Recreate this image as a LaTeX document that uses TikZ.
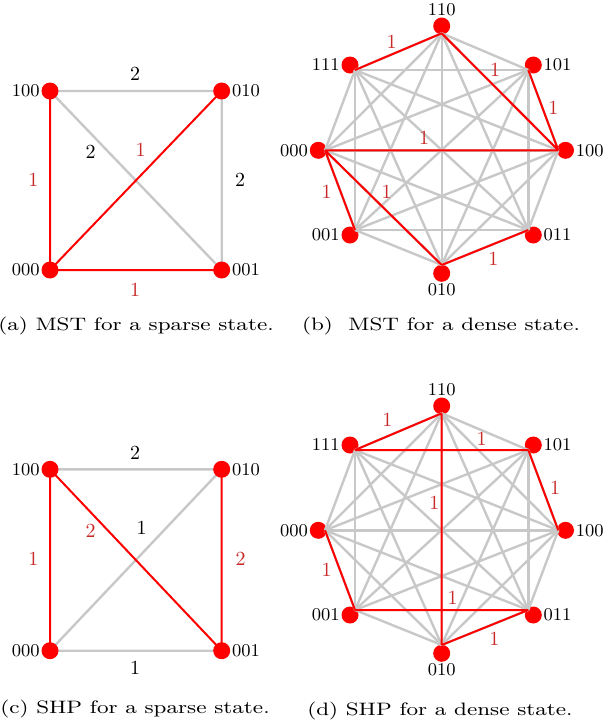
\documentclass[tikz,border=0pt]{standalone}
\usetikzlibrary{calc}
\definecolor{edgegray}{RGB}{200,200,200}
\definecolor{wtred}{RGB}{200,40,40}
\tikzset{
  vdot/.style={circle, fill=red, minimum size=8.5pt, inner sep=0pt},
  gedge/.style={draw=edgegray, line width=1.2pt},
  redge/.style={draw=red, line width=1pt},
  wblack/.style={font=\normalsize, inner sep=1pt},
  wred/.style={font=\normalsize, text=wtred, inner sep=1pt},
  vlab/.style={font=\small, inner sep=0.5pt},
  captext/.style={font=\fontsize{9}{11}\selectfont}
}
\newcommand{\capwide}[1]{\scalebox{1.25}[1]{#1}}

\begin{document}
\begin{tikzpicture}[x=0.5pt, y=-0.5pt]
\useasboundingbox (0,0) rectangle (602,724);

% (a) MST, sparse state
\coordinate (a100) at (50,91);
\coordinate (a010) at (221.7,91);
\coordinate (a000) at (50,270);
\coordinate (a001) at (221.7,270);
\draw[gedge] (a100) -- (a010) (a100) -- (a001) (a010) -- (a001);
\draw[redge] (a100) -- (a000) (a000) -- (a010) (a000) -- (a001);
\node[vdot, label={[vlab]left:100}] (pa100) at (a100) {};
\node[vdot, label={[vlab]right:010}] (pa010) at (a010) {};
\node[vdot, label={[vlab]left:000}] (pa000) at (a000) {};
\node[vdot, label={[vlab]right:001}] (pa001) at (a001) {};
\node[wblack] (wa1) at (135,74) {2};
\node[wblack] (wa2) at (90.7,151.7) {2};
\node[wred] (wa3) at (140.7,150) {1};
\node[wred] (wa4) at (33.3,180) {1};
\node[wblack] (wa5) at (240,180) {2};
\node[wred] (wa6) at (135,290) {1};
\node[captext] (capa) at (136,326) {\capwide{(a) MST for a sparse state.}};

% (b) MST, dense state
\foreach \nm/\vx/\vy/\px/\py/\side in {110/441.7/33.3/441.7/26/above, 111/355/70/350/65/left,
    101/528.3/70/533.3/65/right, 000/325/150.3/318.3/150.3/left, 100/558.3/150.3/565.5/150.3/right,
    001/355/230/350/235/left, 011/528.3/230/533.3/235/right, 010/441.7/265/441.7/273.3/below} {
  \coordinate (b\nm) at (\vx,\vy);
  \node[vdot, label={[vlab]\side:\nm}] (pb\nm) at (\px,\py) {};
}
\foreach \u [count=\i] in {110,101,100,011,010,001,000,111} {
  \foreach \v [count=\j] in {110,101,100,011,010,001,000,111} {
    \ifnum\j>\i \draw[gedge] (b\u) -- (b\v); \fi
  }
}
\draw[redge] (b110) -- (b111) (b110) -- (b100) (b101) -- (b100) (b000) -- (b100)
  (b000) -- (b001) (b000) -- (b010) (b010) -- (b011);
\node[wred] (wb1) at (391.7,41.7) {1};
\node[wred] (wb2) at (495,70) {1};
\node[wred] (wb3) at (553.3,108.3) {1};
\node[wred] (wb4) at (424,138.3) {1};
\node[wred] (wb5) at (326.7,191.7) {1};
\node[wred] (wb6) at (386.7,191.7) {1};
\node[wred] (wb7) at (493.3,259.3) {1};
\node[captext] (capb) at (441,326) {\capwide{(b)\ \ MST for a dense state.}};

% (c) SHP, sparse state
\coordinate (c100) at (50,469.3);
\coordinate (c010) at (221.7,469.3);
\coordinate (c000) at (50,650.7);
\coordinate (c001) at (221.7,650.7);
\draw[gedge] (c100) -- (c010) (c000) -- (c010) (c000) -- (c001);
\draw[redge] (c100) -- (c000) (c100) -- (c001) (c010) -- (c001);
\node[vdot, label={[vlab]left:100}] (pc100) at (c100) {};
\node[vdot, label={[vlab]right:010}] (pc010) at (c010) {};
\node[vdot, label={[vlab]left:000}] (pc000) at (c000) {};
\node[vdot, label={[vlab]right:001}] (pc001) at (c001) {};
\node[wblack] (wc1) at (135,453.3) {2};
\node[wred] (wc2) at (90.7,530.7) {2};
\node[wblack] (wc3) at (141.7,528) {1};
\node[wred] (wc4) at (33.3,559) {1};
\node[wred] (wc5) at (240.7,559) {2};
\node[wblack] (wc6) at (135,668) {1};
\node[captext] (capc) at (135,709) {\capwide{(c) SHP for a sparse state.}};

% (d) SHP, dense state
\begin{scope}[shift={(0,380)}]
\foreach \nm/\vx/\vy/\px/\py/\side in {110/441.7/33.3/441.7/26/above, 111/355/70/350/65/left,
    101/528.3/70/533.3/65/right, 000/325/150.3/318.3/150.3/left, 100/558.3/150.3/565.5/150.3/right,
    001/355/230/350/235/left, 011/528.3/230/533.3/235/right, 010/441.7/265/441.7/273.3/below} {
  \coordinate (d\nm) at (\vx,\vy);
  \node[vdot, label={[vlab]\side:\nm}] (pd\nm) at (\px,\py) {};
}
\end{scope}
\foreach \u [count=\i] in {110,101,100,011,010,001,000,111} {
  \foreach \v [count=\j] in {110,101,100,011,010,001,000,111} {
    \ifnum\j>\i \draw[gedge] (d\u) -- (d\v); \fi
  }
}
\draw[redge] (d110) -- (d111) (d111) -- (d101) (d110) -- (d010) (d101) -- (d100)
  (d000) -- (d001) (d001) -- (d011) (d010) -- (d011);
\node[wred] (wd1) at (387.3,420) {1};
\node[wred] (wd2) at (481.7,439.3) {1};
\node[wred] (wd3) at (434.3,503.3) {1};
\node[wred] (wd4) at (555,488.3) {1};
\node[wred] (wd5) at (326.7,570) {1};
\node[wred] (wd6) at (452.7,598.3) {1};
\node[wred] (wd7) at (494.3,639.3) {1};
\node[captext] (capd) at (440,711) {\capwide{(d) SHP for a dense state.}};
\end{tikzpicture}
\end{document}
